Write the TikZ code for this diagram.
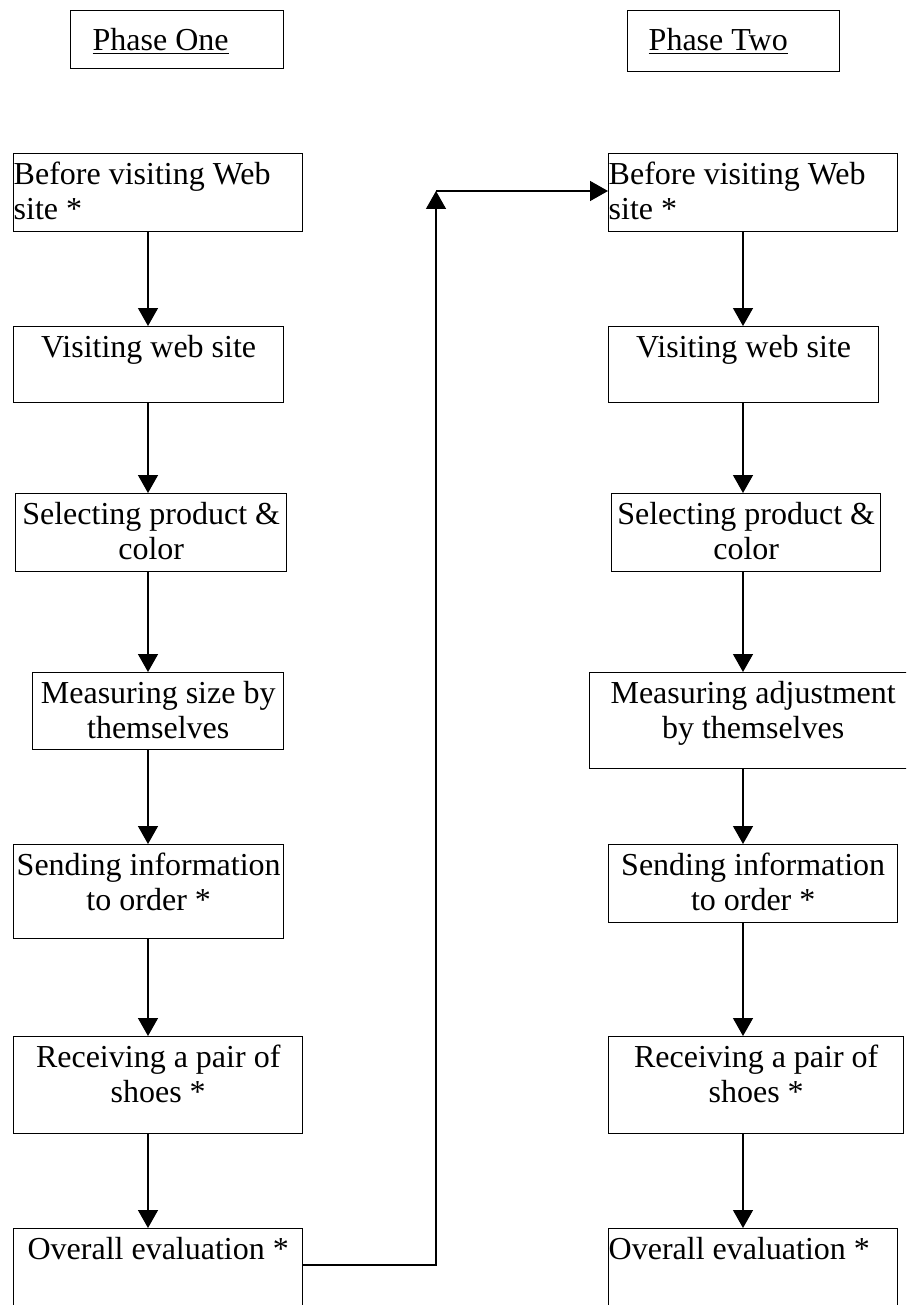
\documentclass[tikz,border=0pt]{standalone}
\usepackage{fontspec}
\setmainfont{Liberation Serif}
\usetikzlibrary{arrows.meta}

\newcommand\stagefont{\fontsize{16pt}{17.5pt}\selectfont}
% box text: width, height (in px), alignment, lines
\newcommand\stagetxt[4]{\parbox[t][\dimexpr#2pt/2\relax][t]{\dimexpr#1pt/2\relax}{#3\rule{0pt}{15.5pt}#4}}

\begin{document}
\begin{tikzpicture}[x=0.5pt,y=-0.5pt,
 stage/.style={draw,line width=0.7pt,anchor=north west,inner sep=0pt,font=\stagefont},
 flow/.style={line width=0.7pt,-{Triangle[length=9pt,width=10pt]}}]
\useasboundingbox (0,0) rectangle (906,1305);
\clip (0,0) rectangle (906,1305);
% headers
\node[stage] (p1) at (70,10) {\parbox[t][29pt][t]{106.5pt}{\rule{0pt}{20pt}\hspace*{11pt}\underline{Phase One}}};
\node[stage] (p2) at (627,10) {\parbox[t][30.5pt][t]{106pt}{\rule{0pt}{20pt}\hspace*{10.5pt}\underline{Phase Two}}};
% phase one
\node[stage] (l1) at (13,153) {\stagetxt{289}{78}{\raggedright}{Before visiting Web\\site *}};
\node[stage] (l2) at (13,326) {\stagetxt{270}{76}{\centering}{Visiting web site}};
\node[stage] (l3) at (15,493) {\stagetxt{271}{78}{\centering}{Selecting product \&\\color}};
\node[stage] (l4) at (32,672) {\stagetxt{251}{77}{\centering}{Measuring size by\\themselves}};
\node[stage] (l5) at (13,844) {\stagetxt{270}{94}{\centering}{Sending information\\to order *}};
\node[stage] (l6) at (13,1036) {\stagetxt{289}{97}{\centering}{Receiving a pair of\\shoes *}};
\node[stage] (l7) at (13,1228) {\stagetxt{289}{120}{\centering}{Overall evaluation *}};
% phase two
\node[stage] (r1) at (608,153) {\stagetxt{289}{78}{\raggedright}{Before visiting Web\\site *}};
\node[stage] (r2) at (608,326) {\stagetxt{270}{76}{\centering}{Visiting web site}};
\node[stage] (r3) at (611,493) {\stagetxt{269}{78}{\centering}{Selecting product \&\\color}};
\node[stage] (r4) at (589,672) {\stagetxt{327}{96}{\centering}{Measuring adjustment\\by themselves}};
\node[stage] (r5) at (608,844) {\stagetxt{289}{78}{\centering}{Sending information\\to order *}};
\node[stage] (r6) at (608,1036) {\stagetxt{295}{97}{\centering}{Receiving a pair of\\shoes *}};
\node[stage] (r7) at (608,1228) {\stagetxt{289}{120}{\raggedright}{Overall evaluation *}};
% arrows down each column
\coordinate (axl) at (148,0);
\coordinate (axr) at (743,0);
\foreach \s in {l,r}
 \foreach \i/\j in {1/2,2/3,3/4,4/5,5/6,6/7}
  \draw[flow] (\s\i.south -| ax\s) -- (\s\j.north -| ax\s);
% link to phase two
\coordinate (turn) at (436,191);
\draw[flow] (l7.north east) ++(0,37) -| (turn);
\draw[flow] (turn) -- (turn -| r1.west);
\end{tikzpicture}
\end{document}
